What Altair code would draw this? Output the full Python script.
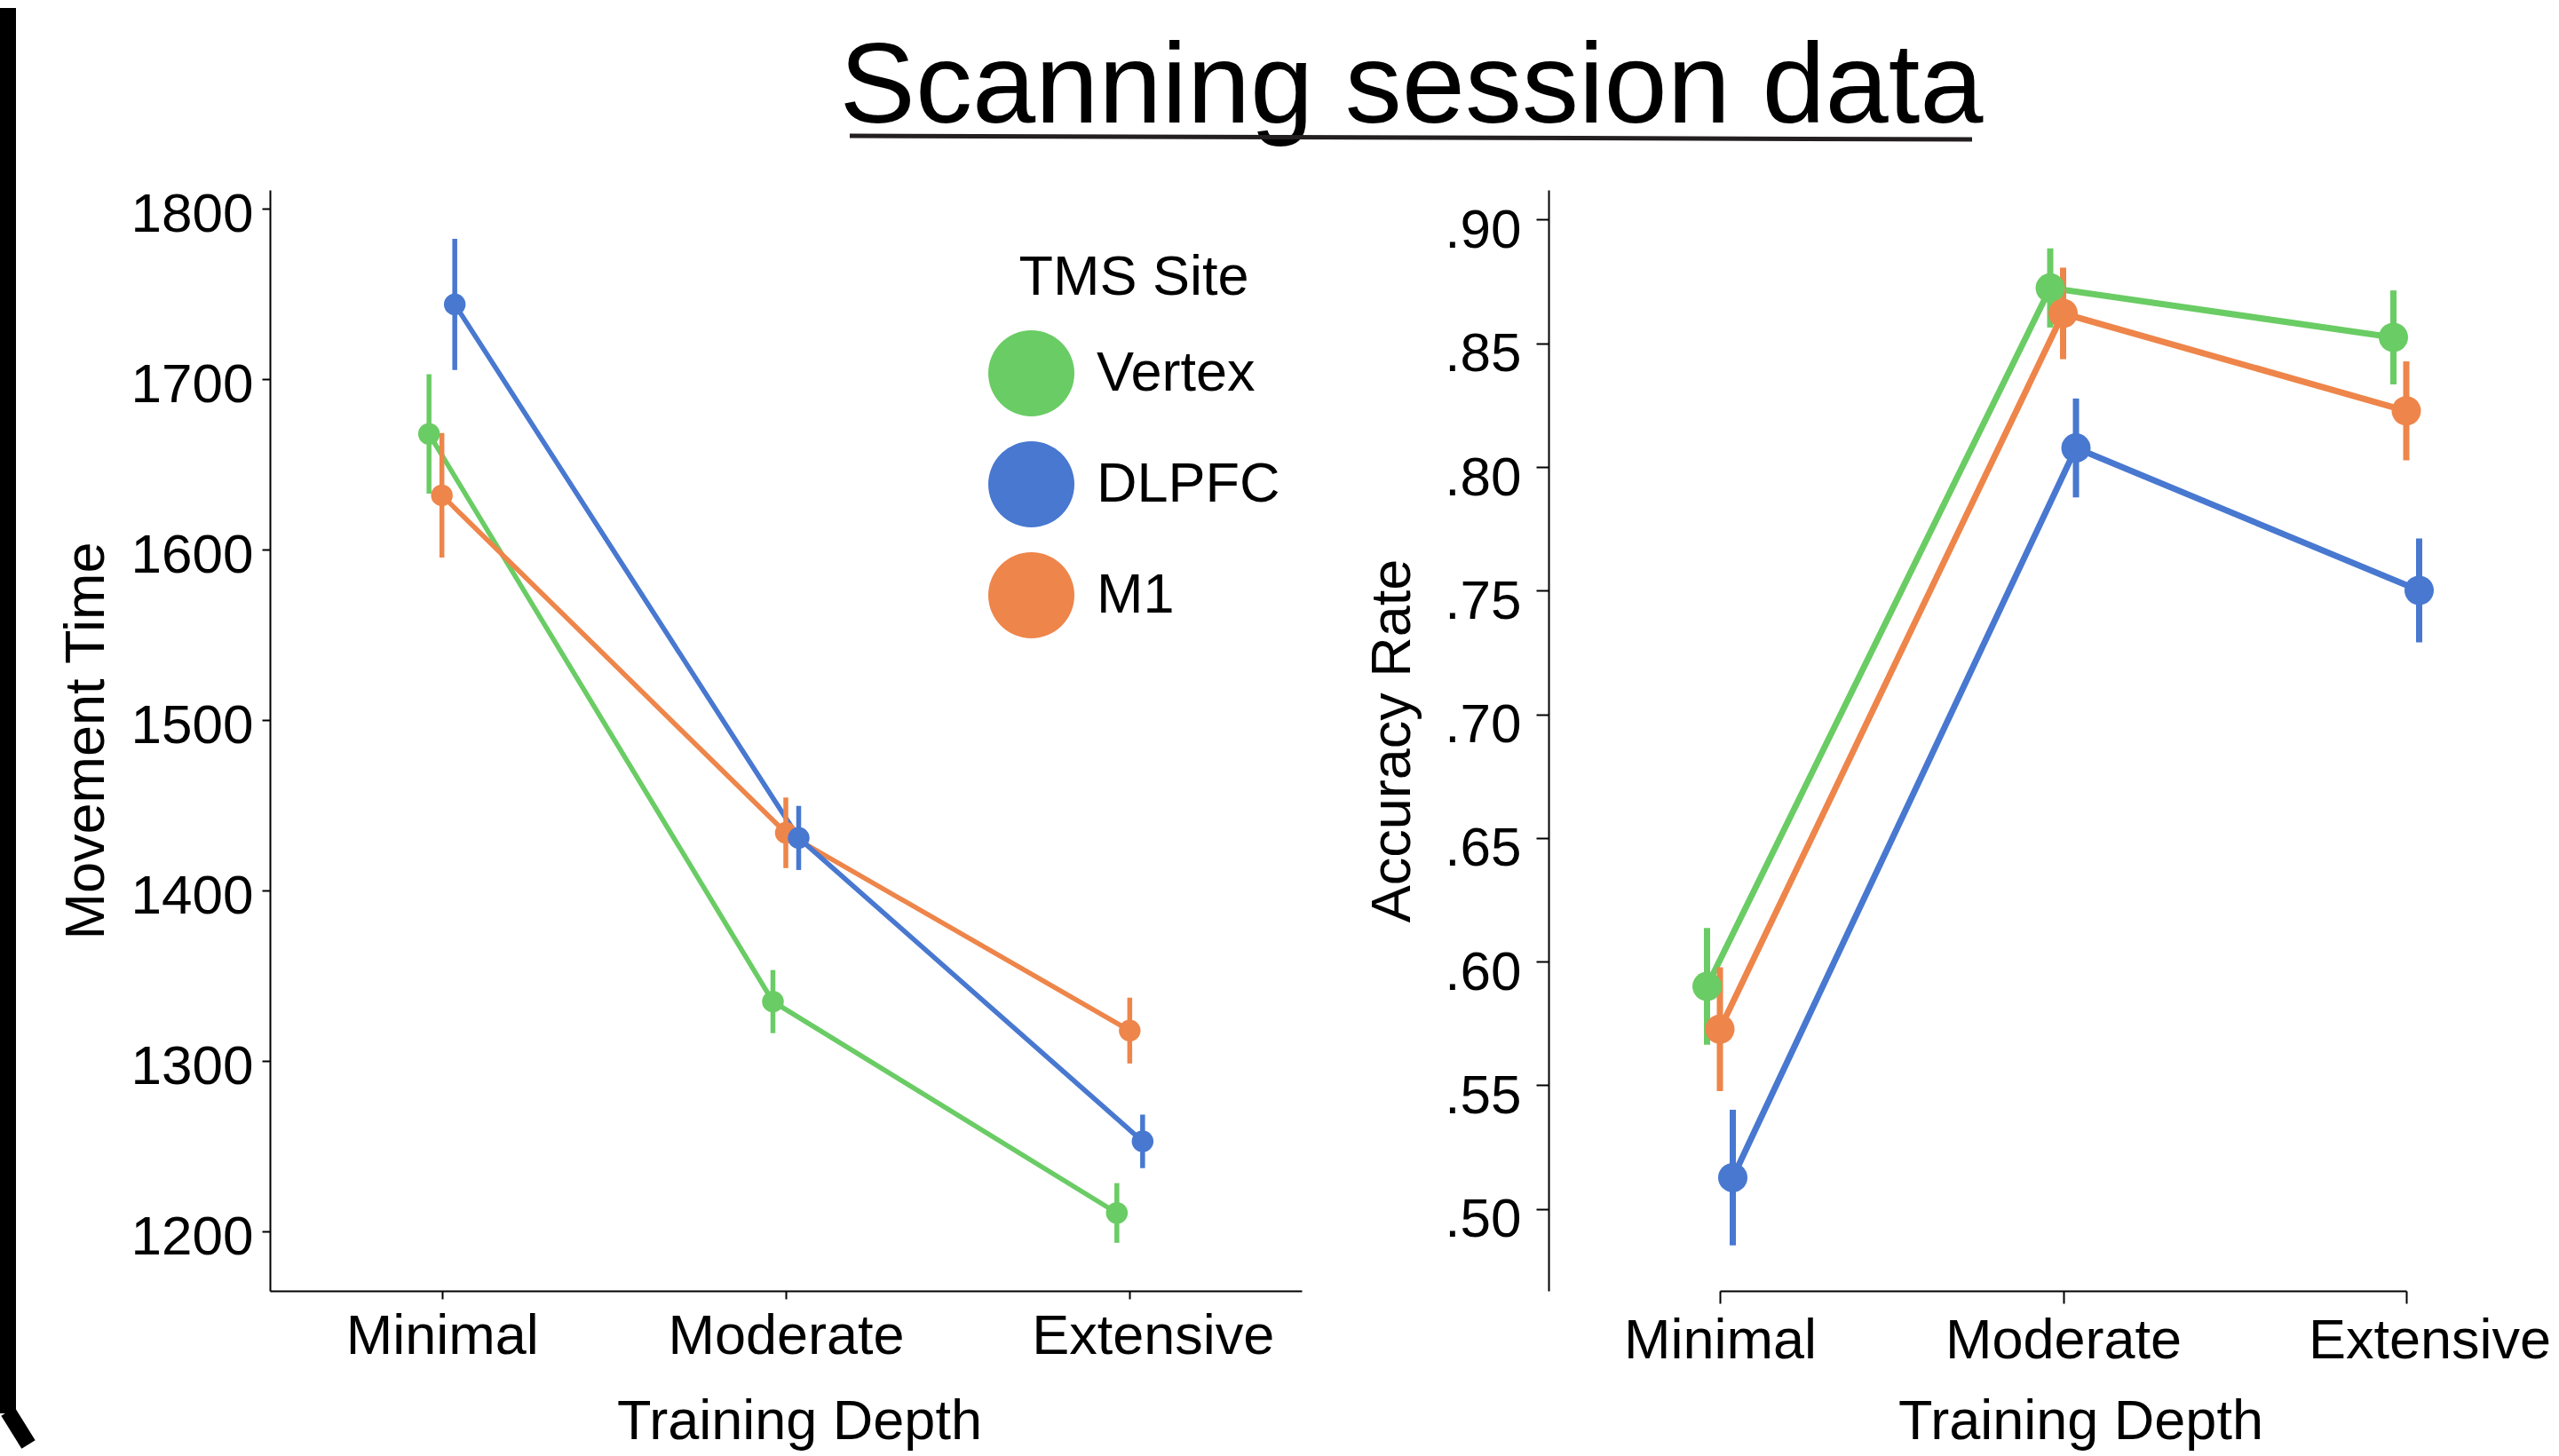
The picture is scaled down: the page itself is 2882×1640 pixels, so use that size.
import altair as alt
import pandas as pd

FONT = "Liberation Sans"

# ---------------- data ----------------
title_text = ["Scanning session data"]
depth = ["Minimal", "Moderate", "Extensive"]
sites = ["Vertex", "DLPFC", "M1"]          # legend order
dodge_order = ["Vertex", "M1", "DLPFC"]    # left-to-right dodge order
colors = ["#6acc64", "#4878d0", "#ee854a"]

# Movement Time (means and error half-widths)
mt_vertex = [1668, 1335, 1211]
mt_vertex_err = [35, 18.5, 17.5]
mt_dlpfc = [1744, 1431, 1253]
mt_dlpfc_err = [38.5, 18.8, 15.7]
mt_m1 = [1632, 1434, 1318]
mt_m1_err = [36.5, 20.7, 19.3]
mt_ticks = [1200, 1300, 1400, 1500, 1600, 1700, 1800]

# Accuracy Rate
acc_vertex = [0.590, 0.8724, 0.8524]
acc_vertex_err = [0.0236, 0.016, 0.019]
acc_dlpfc = [0.5127, 0.8077, 0.7501]
acc_dlpfc_err = [0.0274, 0.020, 0.021]
acc_m1 = [0.5727, 0.8621, 0.8227]
acc_m1_err = [0.025, 0.0185, 0.020]
acc_ticks = [0.50, 0.55, 0.60, 0.65, 0.70, 0.75, 0.80, 0.85, 0.90]


def build(series):
    rows = []
    for site, means, errs in series:
        for d, m, e in zip(depth, means, errs):
            rows.append({"site": site, "depth": d, "mean": m, "err": e})
    return pd.DataFrame(rows)


mt_df = build([("Vertex", mt_vertex, mt_vertex_err),
               ("M1", mt_m1, mt_m1_err),
               ("DLPFC", mt_dlpfc, mt_dlpfc_err)])
acc_df = build([("Vertex", acc_vertex, acc_vertex_err),
                ("M1", acc_m1, acc_m1_err),
                ("DLPFC", acc_dlpfc, acc_dlpfc_err)])
deco_df = pd.DataFrame({"text": title_text})

dodge_expr = "indexof(%s, datum.site) - 1" % str(dodge_order)


def panel(df, xscale, xaxis, yscale, yaxis, legend,
          line_w, err_w, pt_size, dodge_px):
    base = alt.Chart(df).transform_calculate(
        dodge=dodge_expr,
        lo="datum.mean - datum.err",
        hi="datum.mean + datum.err",
    )
    x = alt.X("depth:N", sort=depth, scale=xscale, axis=xaxis)
    xo = alt.XOffset("dodge:Q", scale=alt.Scale(domain=[-1, 1], range=[-dodge_px, dodge_px]))
    cscale = alt.Scale(domain=sites, range=colors)
    color = alt.Color("site:N", scale=cscale, legend=legend)
    lines = base.mark_line(strokeWidth=line_w).encode(
        x=x, xOffset=xo,
        y=alt.Y("mean:Q", scale=yscale, axis=yaxis),
        color=color,
        detail="site:N",
    )
    errs = base.mark_rule(strokeWidth=err_w).encode(
        x=x, xOffset=xo,
        y=alt.Y("lo:Q", scale=yscale, axis=yaxis),
        y2="hi:Q",
        color=color,
    )
    pts = base.mark_circle(size=pt_size, opacity=1).encode(
        x=x, xOffset=xo,
        y=alt.Y("mean:Q", scale=yscale, axis=yaxis),
        color=color,
    )
    return lines, errs, pts


x_label_offset = {"condition": {"test": "datum.value === 'Extensive'", "value": 26},
                  "value": 0}

# ---------------- left panel ----------------
left_x_axis = alt.Axis(title="Training Depth", labelAngle=0, labelFontSize=63,
                       labelPadding=11, tickSize=9, titleFontSize=63,
                       labelLimit=0, labelOffset=x_label_offset,
                       titleX=596, titleY=166, titleAlign="center",
                       titleBaseline="alphabetic", titleAngle=0)
left_y_axis = alt.Axis(title="Movement Time", values=mt_ticks, format="d",
                       labelFontSize=62, labelPadding=10, tickSize=9,
                       labelBaseline="alphabetic", labelOffset=25,
                       labelLimit=0,
                       titleFontSize=63, titleX=-188, titleY=620,
                       titleAngle=-90, titleAlign="center",
                       titleBaseline="alphabetic")
legend = alt.Legend(title="TMS Site", orient="none", legendX=809, legendY=68,
                    symbolType="circle", symbolSize=9409, symbolStrokeWidth=0,
                    symbolOpacity=1, labelFontSize=63, titleFontSize=63,
                    titleFontWeight="normal", labelOffset=25, rowPadding=28,
                    titlePadding=27, titleAnchor="middle", padding=0,
                    labelFont=FONT, titleFont=FONT, labelColor="black",
                    titleColor="black", labelLimit=0, titleLimit=0)
l_lines, l_errs, l_pts = panel(
    mt_df,
    alt.Scale(type="point", padding=0.5),
    left_x_axis,
    alt.Scale(domain=[1165.3, 1811.1], nice=False, zero=False),
    left_y_axis, legend, 5.5, 5.5, 600, 14.5)

title_mark = alt.Chart(deco_df).mark_text(
    font=FONT, fontSize=128, align="center", baseline="alphabetic", color="black"
).encode(text="text:N", x=alt.value(1285.5), y=alt.value(-76))
underline = alt.Chart(deco_df).mark_rule(color="#231f20", strokeWidth=5).encode(
    x=alt.value(653), x2=alt.value(1917), y=alt.value(-61), y2=alt.value(-57))
frame_v = alt.Chart(deco_df).mark_rule(color="black", strokeWidth=18).encode(
    x=alt.value(-295), y=alt.value(-205), y2=alt.value(1378))
frame_d = alt.Chart(deco_df).mark_rule(color="black", strokeWidth=18).encode(
    x=alt.value(-295), x2=alt.value(-272), y=alt.value(1376), y2=alt.value(1413))

left = alt.layer(l_lines, l_errs, l_pts, frame_v, frame_d, title_mark,
                 underline).properties(width=1162, height=1240)

# ---------------- right panel ----------------
right_x_axis = alt.Axis(title="Training Depth", labelAngle=0, labelFontSize=63,
                        labelPadding=11, tickSize=14, titleFontSize=63,
                        labelLimit=0, labelOffset=x_label_offset,
                        titleX=599, titleY=166, titleAlign="center",
                        titleBaseline="alphabetic", titleAngle=0)
right_y_axis = alt.Axis(title="Accuracy Rate", values=acc_ticks,
                        labelExpr="substring(format(datum.value, '.2f'), 1)",
                        labelFontSize=62, labelPadding=17, tickSize=14,
                        labelBaseline="alphabetic", labelOffset=31,
                        labelLimit=0,
                        titleFontSize=63, titleX=-157, titleY=620,
                        titleAngle=-90, titleAlign="center",
                        titleBaseline="alphabetic")
r_lines, r_errs, r_pts = panel(
    acc_df,
    alt.Scale(type="point", padding=0, range=[193, 966]),
    right_x_axis,
    alt.Scale(domain=[0.4669, 0.9120], nice=False, zero=False),
    right_y_axis, None, 7, 7, 1089, 14.6)

right = alt.layer(r_lines, r_errs, r_pts).properties(width=1130, height=1240)

chart = alt.hconcat(
    left, right, spacing=278, bounds="flush", padding=0, background="white"
).resolve_scale(
    color="independent", x="independent", y="independent"
).resolve_legend(color="independent").configure_view(stroke=None).configure_axis(
    domainColor="black", domainWidth=2, tickColor="black", tickWidth=2,
    labelFont=FONT, titleFont=FONT, labelColor="black", titleColor="black",
    titleFontWeight="normal", grid=False
)

chart.save("out.html", embed_options={"renderer": "svg", "actions": False})
